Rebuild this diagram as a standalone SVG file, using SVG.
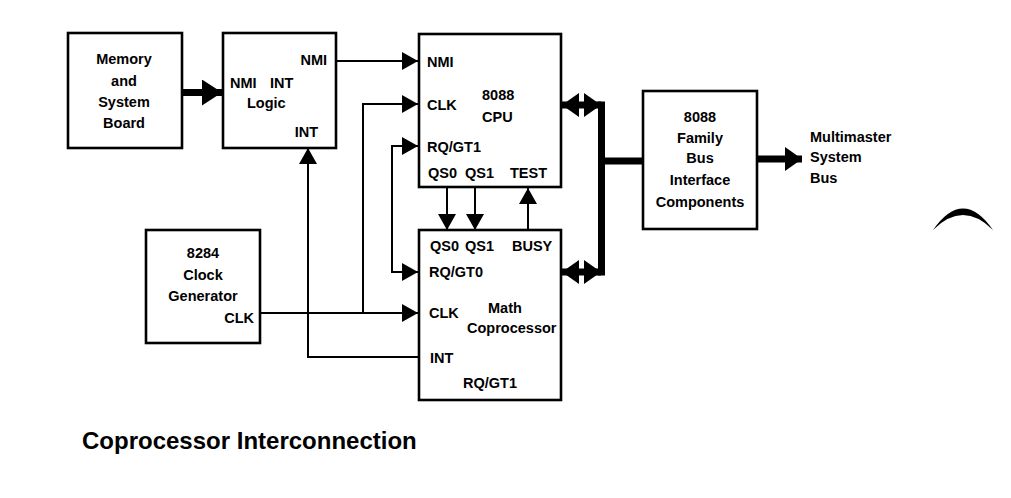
<svg xmlns="http://www.w3.org/2000/svg" width="1011" height="498" viewBox="0 0 1011 498">
<style>
.box{fill:#fff;stroke:#000;stroke-width:2.6}
.t{font-family:"Liberation Sans",Arial,sans-serif;font-weight:bold;font-size:14.5px;fill:#000}
.c{text-anchor:middle}
.r{text-anchor:end}
.thin{fill:none;stroke:#000;stroke-width:2}
.thick{fill:none;stroke:#000;stroke-width:7}
.cap{font-family:"Liberation Sans",Arial,sans-serif;font-weight:bold;font-size:24px;fill:#000}
</style>
<defs>
<marker id="a" markerUnits="userSpaceOnUse" markerWidth="16" markerHeight="18" refX="16" refY="9" orient="auto-start-reverse"><path d="M0,0 L16,9 L0,18 Z" fill="#000"/></marker>
<marker id="b" markerUnits="userSpaceOnUse" markerWidth="20" markerHeight="26" refX="20" refY="13" orient="auto-start-reverse"><path d="M0,0 L20,13 L0,26 Z" fill="#000"/></marker>
<marker id="bus" markerUnits="userSpaceOnUse" markerWidth="17" markerHeight="24" refX="17" refY="12" orient="auto-start-reverse"><path d="M0,0 L17,12 L0,24 Z" fill="#000"/></marker>
</defs>
<rect width="1011" height="498" fill="#fff"/>
<g id="connectors">
<path class="thick" d="M182,92.5 L222,92.5" marker-end="url(#b)"/>
<path class="thin" d="M336,61 L418,61" marker-end="url(#a)"/>
<path class="thin" d="M363,313 L363,104 L418,104" marker-end="url(#a)"/>
<path class="thin" d="M260,313 L418,313" marker-end="url(#a)"/>
<path class="thin" d="M418,146 L392,146 L392,272 L418,272" marker-start="url(#a)" marker-end="url(#a)"/>
<path class="thin" d="M419,357 L308,357 L308,148" marker-end="url(#a)"/>
<path class="thin" d="M447,188 L447,230" marker-end="url(#a)"/>
<path class="thin" d="M475,188 L475,230" marker-end="url(#a)"/>
<path class="thin" d="M528,230 L528,188" marker-end="url(#a)"/>
<path class="thick" d="M601,105 L562,105" marker-start="url(#bus)" marker-end="url(#bus)"/>
<path class="thick" d="M601,272 L562,272" marker-start="url(#bus)" marker-end="url(#bus)"/>
<path class="thick" d="M601.5,101.5 L601.5,275.5"/>
<path class="thick" d="M601.5,161 L643,161"/>
<path class="thick" d="M757,159 L802,159" marker-end="url(#bus)"/>
</g>
<g id="memory">
<rect class="box" x="68" y="33" width="114" height="115"/>
<text class="t c" x="124" y="64">Memory</text>
<text class="t c" x="124" y="86">and</text>
<text class="t c" x="124" y="107">System</text>
<text class="t c" x="124" y="128">Board</text>
</g>
<g id="nmilogic">
<rect class="box" x="223" y="33" width="113" height="115"/>
<text class="t r" x="327" y="65">NMI</text>
<text class="t" x="230" y="88">NMI<tspan x="270">INT</tspan></text>
<text class="t" x="247" y="108">Logic</text>
<text class="t r" x="318" y="137">INT</text>
</g>
<g id="cpu">
<rect class="box" x="419" y="34" width="142" height="153"/>
<text class="t" x="427" y="67">NMI</text>
<text class="t" x="427" y="110">CLK</text>
<text class="t" x="482" y="100">8088</text>
<text class="t" x="482" y="122">CPU</text>
<text class="t" x="427" y="152">RQ/GT1</text>
<text class="t" x="428" y="178">QS0</text>
<text class="t" x="465" y="178">QS1</text>
<text class="t" x="510" y="178">TEST</text>
</g>
<g id="math">
<rect class="box" x="419" y="230" width="142" height="170"/>
<text class="t" x="430" y="251">QS0</text>
<text class="t" x="465" y="251">QS1</text>
<text class="t" x="512" y="251">BUSY</text>
<text class="t" x="429" y="277">RQ/GT0</text>
<text class="t" x="429" y="318">CLK</text>
<text class="t" x="488" y="313">Math</text>
<text class="t" x="467" y="333">Coprocessor</text>
<text class="t" x="430" y="363">INT</text>
<text class="t" x="463" y="388">RQ/GT1</text>
</g>
<g id="clockgen">
<rect class="box" x="146" y="230" width="114" height="113"/>
<text class="t c" x="203" y="258">8284</text>
<text class="t c" x="203" y="280">Clock</text>
<text class="t c" x="203" y="301">Generator</text>
<text class="t r" x="254" y="323">CLK</text>
</g>
<g id="businterface">
<rect class="box" x="643" y="91" width="114" height="138"/>
<text class="t c" x="700" y="122">8088</text>
<text class="t c" x="700" y="143">Family</text>
<text class="t c" x="700" y="163">Bus</text>
<text class="t c" x="700" y="185">Interface</text>
<text class="t c" x="700" y="207">Components</text>
</g>
<g id="multimaster">
<text class="t" x="810" y="142">Multimaster</text>
<text class="t" x="810" y="162">System</text>
<text class="t" x="810" y="183">Bus</text>
</g>
<path d="M933,230 Q963,187 993,230 Q963,200 933,230 Z" fill="#000"/>
<text class="cap" x="82" y="449">Coprocessor Interconnection</text>
</svg>
